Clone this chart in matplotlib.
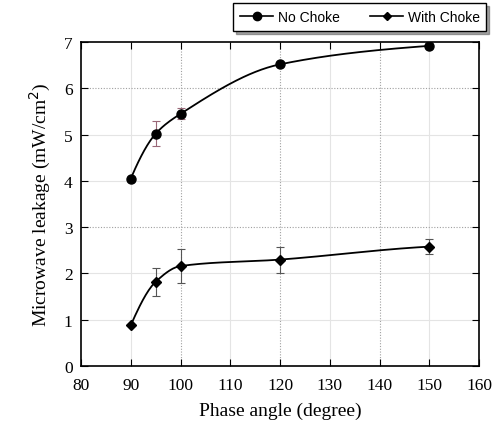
import numpy as np
import matplotlib
matplotlib.use("Agg")
import matplotlib.pyplot as plt

angle = [90, 95, 100, 120, 150]
no_choke = [4.05, 5.02, 5.45, 6.52, 6.92]
no_choke_err = [0.0, 0.27, 0.12, 0.0, 0.05]
with_choke = [0.88, 1.82, 2.16, 2.30, 2.58]
with_choke_err = [0.0, 0.30, 0.37, 0.28, 0.17]


def smooth(x, y, n=200):
    # monotone cubic (pchip-like) just for drawing the connecting curve
    x = np.asarray(x, float)
    y = np.asarray(y, float)
    h = np.diff(x)
    d = np.diff(y) / h
    m = np.zeros_like(y)
    for k in range(1, len(x) - 1):
        if d[k - 1] * d[k] > 0:
            w1 = 2 * h[k] + h[k - 1]
            w2 = h[k] + 2 * h[k - 1]
            m[k] = (w1 + w2) / (w1 / d[k - 1] + w2 / d[k])
    m[0] = d[0] * 1.3
    m[-1] = d[-1] * 0.6
    xs = np.linspace(x[0], x[-1], n)
    idx = np.clip(np.searchsorted(x, xs) - 1, 0, len(x) - 2)
    t = (xs - x[idx]) / h[idx]
    h00 = 2 * t**3 - 3 * t**2 + 1
    h10 = t**3 - 2 * t**2 + t
    h01 = -2 * t**3 + 3 * t**2
    h11 = t**3 - t**2
    ys = h00 * y[idx] + h10 * h[idx] * m[idx] + h01 * y[idx + 1] + h11 * h[idx] * m[idx + 1]
    return xs, ys


fig = plt.figure(figsize=(4.97, 4.27), dpi=100)
ax = fig.add_axes([0.163, 0.1405, 0.801, 0.7585])

for v in [90, 110, 130, 150]:
    ax.axvline(v, color="#e4e4e4", lw=0.8, zorder=0)
for v in [1, 2, 4, 5]:
    ax.axhline(v, color="#e4e4e4", lw=0.8, zorder=0)
for v in [100, 120, 140]:
    ax.axvline(v, color="#a0a0a0", lw=0.8, ls=(0, (1, 1.5)), zorder=0)
for v in [3, 6]:
    ax.axhline(v, color="#a0a0a0", lw=0.8, ls=(0, (1, 1.5)), zorder=0)

xs, ys = smooth(angle, no_choke)
ax.plot(xs, ys, color="black", lw=1.3)
xs, ys = smooth(angle, with_choke)
ax.plot(xs, ys, color="black", lw=1.3)

ax.errorbar(angle, no_choke, yerr=no_choke_err, fmt="none", ecolor="#9a6878",
            elinewidth=0.8, capsize=3, capthick=0.8)
ax.errorbar(angle, with_choke, yerr=with_choke_err, fmt="none", ecolor="#555555",
            elinewidth=0.8, capsize=3, capthick=0.8)
ax.plot(angle, no_choke, "o", color="black", ms=6.5)
ax.plot(angle, with_choke, "D", color="black", ms=5)

ax.set_xlim(80, 160)
ax.set_ylim(0, 7)
ax.set_xticks(range(80, 161, 10))
ax.set_yticks(range(0, 8))
ax.tick_params(direction="in", top=True, right=True, length=5, labelsize=12.5)
ax.tick_params(axis="x", pad=8)
ax.tick_params(axis="y", pad=6)
for lab in ax.get_xticklabels() + ax.get_yticklabels():
    lab.set_family("Liberation Serif")
for s in ax.spines.values():
    s.set_linewidth(1.2)

ax.set_xlabel("Phase angle (degree)", family="Liberation Serif", fontsize=14, labelpad=6)
ax.set_ylabel("Microwave leakage (mW/cm$^2$)", family="Liberation Serif", fontsize=14, labelpad=8)

h1 = ax.plot([], [], "-o", color="black", ms=6, lw=1.2)[0]
h2 = ax.plot([], [], "-D", color="black", ms=4, lw=1.2)[0]
leg = fig.legend([h1, h2], ["No Choke", "With Choke"], loc="center",
                 bbox_to_anchor=(0.724, 0.958), ncol=2, frameon=True, fancybox=False,
                 shadow=True, edgecolor="black", handlelength=2.4, handletextpad=0.3,
                 prop={"family": "Liberation Sans", "size": 10}, columnspacing=2.2,
                 borderpad=0.5)
leg.get_frame().set_linewidth(1.0)

fig.savefig("out.png", dpi=100)
